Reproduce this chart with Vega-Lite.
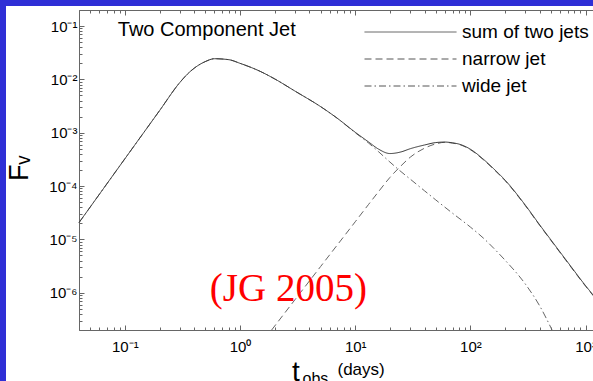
{
  "$schema": "https://vega.github.io/schema/vega-lite/v6.json",
  "width": 587,
  "height": 375,
  "autosize": {"type": "none"},
  "padding": {"left": 6, "top": 6, "right": 0, "bottom": 0},
  "background": "#2f2fd6",
  "config": {
    "font": "Liberation Sans",
    "view": {"fill": "white", "stroke": null}
  },
  "datasets": {
    "curves": [
      {"series": "sum of two jets", "t": 0.04, "F": 2.06e-5},
      {"series": "sum of two jets", "t": 0.1, "F": 3.24e-4},
      {"series": "sum of two jets", "t": 0.2, "F": 2.59e-3},
      {"series": "sum of two jets", "t": 0.3, "F": 8.73e-3},
      {"series": "sum of two jets", "t": 0.35, "F": 1.26e-2},
      {"series": "sum of two jets", "t": 0.4, "F": 1.62e-2},
      {"series": "sum of two jets", "t": 0.5, "F": 2.16e-2},
      {"series": "sum of two jets", "t": 0.6, "F": 2.44e-2},
      {"series": "sum of two jets", "t": 0.8, "F": 2.34e-2},
      {"series": "sum of two jets", "t": 1, "F": 2.0e-2},
      {"series": "sum of two jets", "t": 1.5, "F": 1.41e-2},
      {"series": "sum of two jets", "t": 2, "F": 1.02e-2},
      {"series": "sum of two jets", "t": 3, "F": 6.03e-3},
      {"series": "sum of two jets", "t": 5, "F": 3.09e-3},
      {"series": "sum of two jets", "t": 7, "F": 1.86e-3},
      {"series": "sum of two jets", "t": 10, "F": 1.02e-3},
      {"series": "sum of two jets", "t": 13, "F": 6.76e-4},
      {"series": "sum of two jets", "t": 16, "F": 4.90e-4},
      {"series": "sum of two jets", "t": 20, "F": 4.07e-4},
      {"series": "sum of two jets", "t": 25, "F": 4.37e-4},
      {"series": "sum of two jets", "t": 30, "F": 5.01e-4},
      {"series": "sum of two jets", "t": 40, "F": 5.89e-4},
      {"series": "sum of two jets", "t": 50, "F": 6.53e-4},
      {"series": "sum of two jets", "t": 60, "F": 6.68e-4},
      {"series": "sum of two jets", "t": 70, "F": 6.46e-4},
      {"series": "sum of two jets", "t": 80, "F": 6.10e-4},
      {"series": "sum of two jets", "t": 100, "F": 4.90e-4},
      {"series": "sum of two jets", "t": 130, "F": 3.16e-4},
      {"series": "sum of two jets", "t": 160, "F": 2.09e-4},
      {"series": "sum of two jets", "t": 200, "F": 1.29e-4},
      {"series": "sum of two jets", "t": 300, "F": 4.37e-5},
      {"series": "sum of two jets", "t": 400, "F": 1.86e-5},
      {"series": "sum of two jets", "t": 500, "F": 9.77e-6},
      {"series": "sum of two jets", "t": 700, "F": 3.72e-6},
      {"series": "sum of two jets", "t": 1000, "F": 1.35e-6},
      {"series": "sum of two jets", "t": 1200, "F": 8.32e-7},

      {"series": "narrow jet", "t": 1.88, "F": 2.0e-7},
      {"series": "narrow jet", "t": 3, "F": 7.41e-7},
      {"series": "narrow jet", "t": 5, "F": 3.09e-6},
      {"series": "narrow jet", "t": 10, "F": 2.14e-5},
      {"series": "narrow jet", "t": 13, "F": 4.47e-5},
      {"series": "narrow jet", "t": 16, "F": 7.94e-5},
      {"series": "narrow jet", "t": 20, "F": 1.45e-4},
      {"series": "narrow jet", "t": 25, "F": 2.40e-4},
      {"series": "narrow jet", "t": 30, "F": 3.47e-4},
      {"series": "narrow jet", "t": 40, "F": 5.13e-4},
      {"series": "narrow jet", "t": 50, "F": 6.17e-4},
      {"series": "narrow jet", "t": 60, "F": 6.61e-4},
      {"series": "narrow jet", "t": 70, "F": 6.38e-4},
      {"series": "narrow jet", "t": 80, "F": 6.03e-4},
      {"series": "narrow jet", "t": 100, "F": 4.79e-4},
      {"series": "narrow jet", "t": 130, "F": 3.09e-4},
      {"series": "narrow jet", "t": 160, "F": 2.04e-4},
      {"series": "narrow jet", "t": 200, "F": 1.26e-4},
      {"series": "narrow jet", "t": 300, "F": 4.27e-5},
      {"series": "narrow jet", "t": 400, "F": 1.82e-5},
      {"series": "narrow jet", "t": 500, "F": 9.55e-6},
      {"series": "narrow jet", "t": 700, "F": 3.63e-6},
      {"series": "narrow jet", "t": 1000, "F": 1.32e-6},
      {"series": "narrow jet", "t": 1200, "F": 8.13e-7},

      {"series": "wide jet", "t": 0.04, "F": 2.06e-5},
      {"series": "wide jet", "t": 0.1, "F": 3.24e-4},
      {"series": "wide jet", "t": 0.2, "F": 2.59e-3},
      {"series": "wide jet", "t": 0.3, "F": 8.73e-3},
      {"series": "wide jet", "t": 0.35, "F": 1.26e-2},
      {"series": "wide jet", "t": 0.4, "F": 1.62e-2},
      {"series": "wide jet", "t": 0.5, "F": 2.16e-2},
      {"series": "wide jet", "t": 0.6, "F": 2.44e-2},
      {"series": "wide jet", "t": 0.8, "F": 2.34e-2},
      {"series": "wide jet", "t": 1, "F": 2.0e-2},
      {"series": "wide jet", "t": 1.5, "F": 1.41e-2},
      {"series": "wide jet", "t": 2, "F": 1.02e-2},
      {"series": "wide jet", "t": 3, "F": 6.03e-3},
      {"series": "wide jet", "t": 5, "F": 3.09e-3},
      {"series": "wide jet", "t": 7, "F": 1.86e-3},
      {"series": "wide jet", "t": 10, "F": 1.0e-3},
      {"series": "wide jet", "t": 13, "F": 6.46e-4},
      {"series": "wide jet", "t": 16, "F": 4.37e-4},
      {"series": "wide jet", "t": 20, "F": 2.82e-4},
      {"series": "wide jet", "t": 25, "F": 1.86e-4},
      {"series": "wide jet", "t": 30, "F": 1.35e-4},
      {"series": "wide jet", "t": 40, "F": 8.13e-5},
      {"series": "wide jet", "t": 50, "F": 5.50e-5},
      {"series": "wide jet", "t": 70, "F": 3.09e-5},
      {"series": "wide jet", "t": 100, "F": 1.70e-5},
      {"series": "wide jet", "t": 130, "F": 1.05e-5},
      {"series": "wide jet", "t": 160, "F": 6.76e-6},
      {"series": "wide jet", "t": 200, "F": 4.07e-6},
      {"series": "wide jet", "t": 300, "F": 1.45e-6},
      {"series": "wide jet", "t": 400, "F": 5.62e-7},
      {"series": "wide jet", "t": 511, "F": 2.0e-7}
    ]
  },
  "data": {"name": "curves"},
  "encoding": {
    "y": {
      "field": "F",
      "type": "quantitative",
      "scale": {"type": "log", "domain": [2e-7, 0.2], "range": [324, 4], "nice": false},
      "axis": {
        "orient": "left",
        "offset": -73,
        "values": [2e-7, 3e-7, 4e-7, 5e-7, 6e-7, 7e-7, 8e-7, 9e-7,
                   1e-6, 2e-6, 3e-6, 4e-6, 5e-6, 6e-6, 7e-6, 8e-6, 9e-6,
                   1e-5, 2e-5, 3e-5, 4e-5, 5e-5, 6e-5, 7e-5, 8e-5, 9e-5,
                   1e-4, 2e-4, 3e-4, 4e-4, 5e-4, 6e-4, 7e-4, 8e-4, 9e-4,
                   1e-3, 2e-3, 3e-3, 4e-3, 5e-3, 6e-3, 7e-3, 8e-3, 9e-3,
                   1e-2, 2e-2, 3e-2, 4e-2, 5e-2, 6e-2, 7e-2, 8e-2, 9e-2,
                   0.1, 0.2],
        "tickSize": {"condition": {"test": "abs(log(datum.value)/LN10 - round(log(datum.value)/LN10)) < 0.001", "value": -5}, "value": -3},
        "tickColor": "#666666",
        "tickWidth": 1,
        "domainColor": "#666666",
        "domainWidth": 1,
        "grid": false,
        "labelExpr": "abs(log(datum.value)/LN10 - round(log(datum.value)/LN10)) < 0.001 ? ['10⁻⁷','10⁻⁶','10⁻⁵','10⁻⁴','10⁻³','10⁻²','10⁻¹','10⁰','10¹','10²','10³','10⁴'][round(log(datum.value)/LN10) + 7] : ''",
        "labelFontSize": 15,
        "labelColor": "#000000",
        "labelPadding": 7,
        "labelOverlap": false,
        "labelFlush": false,
        "labelBound": false,
        "title": "Fᵥ",
        "titleFontSize": 27,
        "titleFontWeight": "normal",
        "titleColor": "#000000",
        "titleAngle": 270,
        "titleX": -52,
        "titleY": 162,
        "titleAlign": "center",
        "titleBaseline": "alphabetic"
      }
    },
    "strokeDash": {
      "field": "series",
      "type": "nominal",
      "scale": {
        "domain": ["sum of two jets", "narrow jet", "wide jet"],
        "range": [[1, 0], [7, 4], [7, 3, 1.5, 3]]
      },
      "legend": {
        "orient": "none",
        "legendX": 358,
        "legendY": 16,
        "title": null,
        "symbolType": "stroke",
        "symbolSize": 8464,
        "symbolStrokeColor": "#555555",
        "symbolStrokeWidth": 1,
        "clipHeight": 20,
        "labelFontSize": 19,
        "labelColor": "#000000",
        "labelOffset": 5,
        "rowPadding": 7
      }
    }
  },
  "layer": [
    {
      "transform": [{"filter": "datum.series === 'wide jet'"}],
      "mark": {"type": "line", "color": "#666666", "strokeWidth": 1, "interpolate": "monotone"},
      "encoding": {
        "x": {
          "field": "t",
          "type": "quantitative",
          "scale": {"type": "log", "domain": [0.04, 2000], "range": [73, 614.3], "nice": false},
          "axis": {
            "orient": "bottom",
            "offset": -51,
            "ticks": false,
            "labels": false,
            "domain": false,
            "grid": false,
            "title": "obs",
            "titleFontSize": 16,
            "titleFontWeight": "normal",
            "titleColor": "#000000",
            "titleX": 296,
            "titleY": 53,
            "titleAlign": "left",
            "titleBaseline": "alphabetic"
          }
        }
      }
    },
    {
      "transform": [{"filter": "datum.series === 'narrow jet'"}],
      "mark": {"type": "line", "color": "#666666", "strokeWidth": 1, "interpolate": "monotone"},
      "encoding": {
        "x": {
          "field": "t",
          "type": "quantitative",
          "scale": {"type": "log", "domain": [0.04, 2000], "range": [73, 614.3], "nice": false},
          "axis": {
            "orient": "top",
            "offset": -4,
            "values": [0.04, 0.05, 0.06, 0.07, 0.08, 0.09,
                       0.1, 0.2, 0.3, 0.4, 0.5, 0.6, 0.7, 0.8, 0.9,
                       1, 2, 3, 4, 5, 6, 7, 8, 9,
                       10, 20, 30, 40, 50, 60, 70, 80, 90,
                       100, 200, 300, 400, 500, 600, 700, 800, 900,
                       1000, 2000],
            "tickSize": {"condition": {"test": "abs(log(datum.value)/LN10 - round(log(datum.value)/LN10)) < 0.001", "value": -5}, "value": -3},
            "tickColor": "#666666",
            "tickWidth": 1,
            "domainColor": "#666666",
            "domainWidth": 1,
            "labels": false,
            "grid": false,
            "title": null
          }
        }
      }
    },
    {
      "transform": [{"filter": "datum.series === 'sum of two jets'"}],
      "mark": {"type": "line", "color": "#333333", "strokeWidth": 1, "interpolate": "monotone"},
      "encoding": {
        "x": {
          "field": "t",
          "type": "quantitative",
          "scale": {"type": "log", "domain": [0.04, 2000], "range": [73, 614.3], "nice": false},
          "axis": {
            "orient": "bottom",
            "offset": -51,
            "values": [0.04, 0.05, 0.06, 0.07, 0.08, 0.09,
                       0.1, 0.2, 0.3, 0.4, 0.5, 0.6, 0.7, 0.8, 0.9,
                       1, 2, 3, 4, 5, 6, 7, 8, 9,
                       10, 20, 30, 40, 50, 60, 70, 80, 90,
                       100, 200, 300, 400, 500, 600, 700, 800, 900,
                       1000, 2000],
            "tickSize": {"condition": {"test": "abs(log(datum.value)/LN10 - round(log(datum.value)/LN10)) < 0.001", "value": -5}, "value": -3},
            "tickColor": "#666666",
            "tickWidth": 1,
            "domainColor": "#666666",
            "domainWidth": 1,
            "grid": false,
            "labelExpr": "abs(log(datum.value)/LN10 - round(log(datum.value)/LN10)) < 0.001 ? ['10⁻⁷','10⁻⁶','10⁻⁵','10⁻⁴','10⁻³','10⁻²','10⁻¹','10⁰','10¹','10²','10³','10⁴'][round(log(datum.value)/LN10) + 7] : ''",
            "labelFontSize": 15,
            "labelColor": "#000000",
            "labelPadding": 14,
            "labelOverlap": false,
            "labelFlush": false,
            "labelBound": false,
            "title": "t",
            "titleFontSize": 28,
            "titleFontWeight": "normal",
            "titleColor": "#000000",
            "titleX": 285.5,
            "titleY": 50,
            "titleAlign": "left",
            "titleBaseline": "alphabetic"
          }
        }
      }
    },
    {
      "transform": [{"filter": "datum.series === 'sum of two jets' && datum.t === 0.04"}],
      "mark": {"type": "text", "text": "(JG 2005)", "font": "Liberation Serif", "fontSize": 39, "color": "#ff0000", "align": "left", "baseline": "alphabetic"},
      "encoding": {
        "x": {
          "datum": 0.547,
          "type": "quantitative",
          "scale": {"type": "log", "domain": [0.04, 2000], "range": [73, 614.3], "nice": false},
          "axis": {
            "orient": "bottom",
            "offset": -51,
            "ticks": false,
            "labels": false,
            "domain": false,
            "grid": false,
            "title": "(days)",
            "titleFontSize": 17,
            "titleFontWeight": "normal",
            "titleColor": "#000000",
            "titleX": 331,
            "titleY": 44.5,
            "titleAlign": "left",
            "titleBaseline": "alphabetic"
          }
        },
        "y": {"datum": 6.87e-7, "type": "quantitative"},
        "strokeDash": null
      }
    },
    {
      "transform": [{"filter": "datum.series === 'sum of two jets' && datum.t === 0.04"}],
      "mark": {"type": "text", "text": "Two Component Jet", "fontSize": 20, "color": "#000000", "align": "left", "baseline": "alphabetic"},
      "encoding": {
        "x": {"datum": 0.0869, "type": "quantitative", "scale": {"type": "log", "domain": [0.04, 2000], "range": [73, 614.3], "nice": false}, "axis": null},
        "y": {"datum": 0.0641, "type": "quantitative"},
        "strokeDash": null
      }
    }
  ],
  "resolve": {"axis": {"x": "independent"}}
}
